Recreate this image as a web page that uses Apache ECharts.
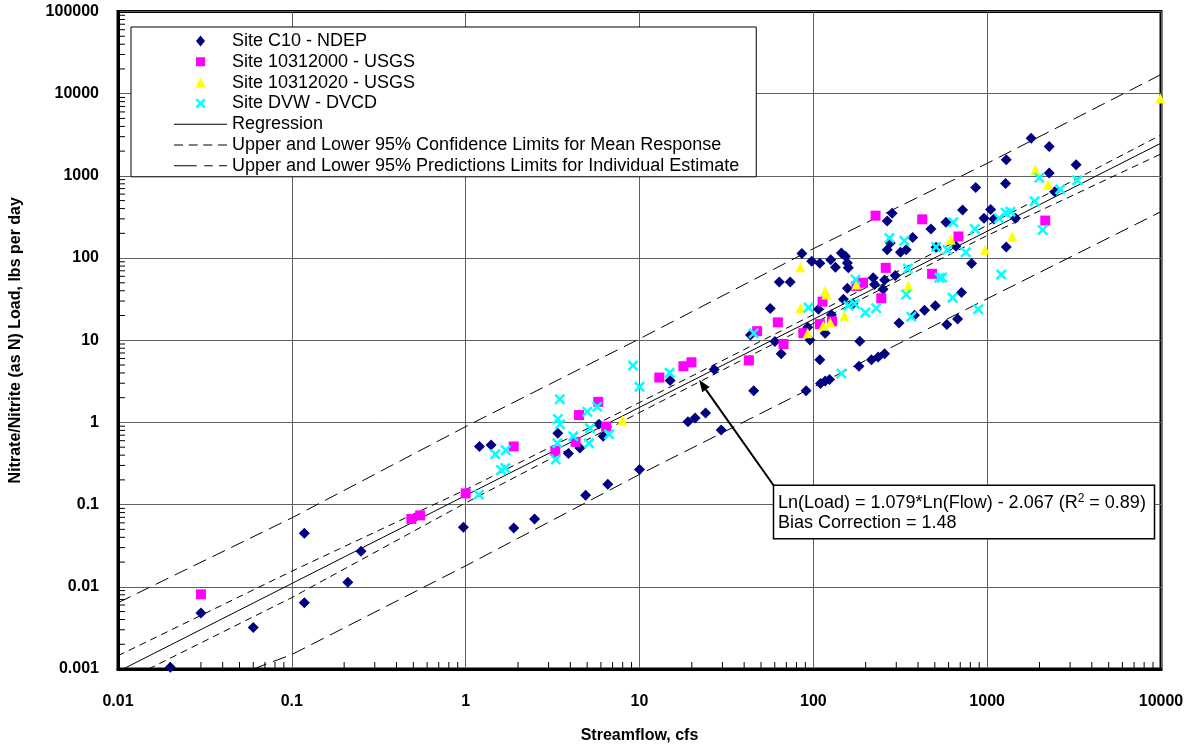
<!DOCTYPE html>
<html>
<head>
<meta charset="utf-8">
<title>Nitrate/Nitrite Load vs Streamflow</title>
<script src="https://cdn.jsdelivr.net/npm/echarts/dist/echarts.min.js"></script>
<style>
    html, body { margin: 0; padding: 0; height: 100%; overflow: hidden; background: #fff; }
    #main { width: 1194px; height: 749px; }
</style>
</head>
<body>
<div id="main"></div>
<script>
// points are [streamflow (cfs), load (lbs per day)]
const siteC10 = [
    [0.02, 0.00105], [0.03, 0.0048], [0.06, 0.0032], [0.118, 0.045], [0.118, 0.0064], [0.21, 0.0114],
    [0.25, 0.027], [0.97, 0.053], [1.2, 0.51], [1.4, 0.53], [1.89, 0.052], [2.49, 0.067], [3.39, 0.74],
    [3.9, 0.42], [4.54, 0.49], [4.9, 0.13], [5.84, 0.95], [6.18, 0.68], [6.57, 0.177], [10, 0.268],
    [15, 3.24], [19, 1.02], [20.9, 1.13], [24, 1.3], [26.9, 4.4], [29.5, 0.81],
    [45.4, 2.43], [43.5, 11.6], [56.5, 24.3], [60.1, 9.64], [65.3, 6.84], [63.7, 51], [73.6, 51],
    [85.9, 114], [90.8, 2.43], [97.9, 91.5], [109, 86.5], [92.9, 14.4], [95.7, 10.1], [109, 5.78],
    [107, 23.9], [110, 2.97], [117, 3.2], [124, 3.32], [117, 12.2], [126, 95.7], [134, 77.4],
    [145, 115], [153, 105], [157, 87.3], [159, 76], [149, 31.5], [157, 42.8], [185, 9.7], [183, 4.82],
    [169, 27.9], [127, 20.4],
    [859, 721], [284, 350], [266, 283], [475, 226], [579, 272], [722, 384], [959, 305], [1047, 391],
    [1094, 299], [373, 178], [277, 152],
    [266, 126], [317, 118], [342, 126], [508, 135], [661, 139], [1288, 136], [813, 85.7], [221, 57.5],
    [257, 54], [296, 61.4], [225, 47.7], [252, 41.6], [712, 38], [503, 26.2], [436, 23.2], [382, 20.2],
    [311, 16.2], [676, 18.1], [586, 15.5], [257, 6.84], [236, 6.24], [216, 5.78],
    [1790, 2860], [2275, 2270], [1288, 1567], [3250, 1364], [2275, 1083], [1276, 805], [2443, 640], [1455, 305]
];
const site10312000 = [
    [0.03, 0.0081], [0.487, 0.067], [0.547, 0.074], [1.0, 0.137], [1.89, 0.51], [3.28, 0.45], [4.29, 0.58],
    [4.49, 1.23], [5.79, 1.78], [6.43, 0.89], [13, 3.52], [17.9, 4.83], [19.9, 5.39],
    [42.6, 5.69], [47.5, 12.9], [62.5, 16.5], [67.4, 9.0], [113, 29.5], [87.7, 12.2], [109, 15.7],
    [128, 17.0], [177, 45.7], [193, 50.1], [246, 32.4], [261, 76], [482, 64.3], [228, 328], [423, 296],
    [684, 183], [2158, 286]
];
const site10312020 = [
    [7.97, 1.06], [84.2, 77.4], [117, 39.8], [119, 36.1], [84.2, 24.5], [92.9, 12.2], [114, 15.0],
    [125, 16.5], [151, 19.9], [177, 47.8], [618, 167], [972, 126], [1393, 183], [352, 45.7],
    [1893, 1188], [2238, 783], [9910, 8710]
];
const siteDVW = [
    [1.19, 0.133], [1.48, 0.41], [1.7, 0.46], [1.6, 0.264], [1.69, 0.279], [3.3, 0.355], [3.37, 0.56],
    [3.39, 1.1], [3.48, 1.91], [3.49, 0.95], [4.16, 0.68], [5.01, 1.35], [5.12, 0.56], [5.19, 0.85],
    [5.71, 1.55], [6.69, 0.72], [9.17, 4.92], [10, 2.72], [14.9, 4.01],
    [45.4, 12.2], [93.8, 25], [145, 3.93], [159, 26.2], [173, 27.9], [175, 55], [199, 21.8],
    [638, 272], [849, 226], [274, 175], [334, 162], [508, 136], [591, 126], [753, 118], [350, 74.5],
    [531, 57.5], [550, 58], [342, 36.1], [230, 24.5], [366, 19.3], [632, 33], [888, 23.9], [1205, 63],
    [1995, 950], [3300, 883], [2630, 687], [1875, 492], [1361, 366], [1276, 356], [1169, 305], [2084, 220]
];

// fitted lines
const regression = [[0.0107, 0.001], [10000, 2500]];
const confUpper = [[0.01, 0.00145], [0.1, 0.0155], [1, 0.152], [10, 1.75], [100, 20.5], [1000, 250], [10000, 3150]];
const confLower = [[0.015, 0.001], [0.1, 0.0074], [1, 0.105], [10, 1.32], [100, 16], [1000, 188], [10000, 1850]];
const predUpper = [[0.01, 0.0064], [0.1, 0.069], [1, 0.89], [10, 10.4], [100, 130], [1000, 1420], [10000, 17100]];
const predLower = [[0.06, 0.001], [0.1, 0.0015], [1, 0.018], [10, 0.233], [100, 2.7], [1000, 32], [10000, 367]];

const xTickLabels = ['0.01', '0.1', '1', '10', '100', '1000', '10000'];
const yTickLabels = ['0.001', '0.01', '0.1', '1', '10', '100', '1000', '10000', '100000'];

const legendNames = [
    'Site C10 - NDEP',
    'Site 10312000 - USGS',
    'Site 10312020 - USGS',
    'Site DVW - DVCD',
    'Regression',
    'Upper and Lower 95% Confidence Limits for Mean Response',
    'Upper and Lower 95% Predictions Limits for Individual Estimate'
];

const eqLine1 = 'Ln(Load) = 1.079*Ln(Flow) - 2.067 (R';
const eqLine1End = ' = 0.89)';
const eqLine2 = 'Bias Correction = 1.48';
const arrowTip = [22, 3.3];
const boxCorner = [59, 0.172];

const FONT = '"Liberation Sans", Arial, sans-serif';
const crossIcon = 'path://M0,1.6L1.6,0L5,3.4L8.4,0L10,1.6L6.6,5L10,8.4L8.4,10L5,6.6L1.6,10L0,8.4L3.4,5Z';

// legend icons drawn in a 53x11 box; the two tiny corner triangles fix the box so nothing is stretched
const box = 'M0,0L0.01,0L0,0.01Z M53,11L52.99,11L53,10.99Z ';
const legendIcons = [
    'path://' + box + 'M26.5,0L31,5.5L26.5,11L22,5.5Z',
    'path://' + box + 'M22,1L31,1L31,10L22,10Z',
    'path://' + box + 'M26.5,0.5L31.5,10.5L21.5,10.5Z',
    'path://' + box + 'M21.5,2.1L23.1,0.5L26.5,3.9L29.9,0.5L31.5,2.1L28.1,5.5L31.5,8.9L29.9,10.5L26.5,7.1L23.1,10.5L21.5,8.9L24.9,5.5Z',
    'path://' + box + 'M0,5L53,5L53,6L0,6Z',
    'path://' + box + 'M0,5L9,5L9,6L0,6Z M14.7,5L23.7,5L23.7,6L14.7,6Z M29.3,5L38.3,5L38.3,6L29.3,6Z M44,5L53,5L53,6L44,6Z',
    'path://' + box + 'M0,5L22.7,5L22.7,6L0,6Z M30.3,5L38.7,5L38.7,6L30.3,6Z M45,5L53,5L53,6L45,6Z'
];

// log minor ticks (2..9 in each decade)
const xMinor = [], yMinor = [];
for (let k = -2; k <= 3; k++) for (let m = 2; m <= 9; m++) xMinor.push([m * Math.pow(10, k), 0.001]);
for (let k = -3; k <= 4; k++) for (let m = 2; m <= 9; m++) yMinor.push([0.01, m * Math.pow(10, k)]);

const chart = echarts.init(document.getElementById('main'));

function scatter(name, data, symbol, size, color) {
    return {
        name, type: 'scatter', data, symbol, symbolSize: size,
        itemStyle: { color, opacity: 1, borderWidth: 0 }, z: 3, silent: true
    };
}
function fitLine(name, data, dash) {
    return {
        name, type: 'line', data, showSymbol: false, symbol: 'none', smooth: false,
        itemStyle: { color: '#000' },
        lineStyle: { color: '#000', width: 1, type: dash }, z: 2, silent: true
    };
}
function minorTicks(name, data, vertical) {
    return {
        name, type: 'custom', data, silent: true, z: 5,
        renderItem: (params, api) => {
            const p = api.coord([api.value(0), api.value(1)]);
            return {
                type: 'line',
                shape: vertical
                    ? { x1: p[0], y1: p[1] - 1, x2: p[0], y2: p[1] - 7 }
                    : { x1: p[0] + 1, y1: p[1], x2: p[0] + 7, y2: p[1] },
                style: { stroke: '#000', lineWidth: 1 }
            };
        }
    };
}

chart.setOption({
    animation: false,
    backgroundColor: '#fff',
    textStyle: { fontFamily: FONT },
    grid: {
        left: 111, right: 33, top: 11.5, bottom: 74.5,
        show: true, borderColor: '#000', borderWidth: 3, backgroundColor: '#fff'
    },
    legend: {
        data: legendNames.map((name, i) => ({ name, icon: legendIcons[i] })),
        orient: 'vertical',
        left: 131, top: 27,
        padding: [5, 17, 2, 43],
        itemWidth: 53, itemHeight: 11, itemGap: 2.8,
        backgroundColor: '#fff',
        borderColor: '#000', borderWidth: 1,
        selectedMode: false,
        itemStyle: { borderWidth: 0 },
        textStyle: { fontFamily: FONT, fontSize: 18, color: '#000' }
    },
    xAxis: {
        type: 'log', logBase: 10, min: 0.01, max: 10000, splitNumber: 10,
        name: 'Streamflow, cfs', nameLocation: 'middle', nameGap: 59,
        nameTextStyle: { fontFamily: FONT, fontSize: 16, fontWeight: 'bold', color: '#000' },
        axisLine: { lineStyle: { color: '#000', width: 3 } },
        axisTick: { show: false },
        axisLabel: {
            margin: 25, fontFamily: FONT, fontSize: 16, fontWeight: 'bold', color: '#000',
            formatter: (v, i) => xTickLabels[i] || ''
        },
        splitLine: { show: true, lineStyle: { color: '#606060', width: 1 } }
    },
    yAxis: {
        type: 'log', logBase: 10, min: 0.001, max: 100000, splitNumber: 10,
        name: 'Nitrate/Nitrite (as N) Load, lbs per day', nameLocation: 'middle', nameGap: 94,
        nameTextStyle: { fontFamily: FONT, fontSize: 16, fontWeight: 'bold', color: '#000' },
        axisLine: { lineStyle: { color: '#000', width: 3 } },
        axisTick: { show: false },
        axisLabel: {
            margin: 19, fontFamily: FONT, fontSize: 16, fontWeight: 'bold', color: '#000',
            formatter: (v, i) => yTickLabels[i] || ''
        },
        splitLine: { show: true, lineStyle: { color: '#606060', width: 1 } }
    },
    series: [
        scatter(legendNames[0], siteC10, 'diamond', 11, '#000080'),
        scatter(legendNames[1], site10312000, 'rect', 10, '#FF00FF'),
        scatter(legendNames[2], site10312020, 'triangle', 10, '#FFFF00'),
        scatter(legendNames[3], siteDVW, crossIcon, 11, '#00FFFF'),
        fitLine(legendNames[4], regression, 'solid'),
        fitLine(legendNames[5], confUpper, [7, 5]),
        fitLine(legendNames[5], confLower, [7, 5]),
        fitLine(legendNames[6], predUpper, [14, 7]),
        fitLine(legendNames[6], predLower, [14, 7]),
        minorTicks('minorX', xMinor, true),
        minorTicks('minorY', yMinor, false)
    ]
});

// regression annotation with arrow
const tip = chart.convertToPixel({ gridIndex: 0 }, arrowTip);
const corner = chart.convertToPixel({ gridIndex: 0 }, boxCorner);
const dx = tip[0] - corner[0], dy = tip[1] - corner[1];
const len = Math.sqrt(dx * dx + dy * dy);
const ux = dx / len, uy = dy / len;
const headLen = 12, headHalf = 4.5;
const bx = tip[0] - ux * headLen, by = tip[1] - uy * headLen;

chart.setOption({
    graphic: [
        {
            type: 'line', z: 100,
            shape: { x1: corner[0], y1: corner[1], x2: bx, y2: by },
            style: { stroke: '#000', lineWidth: 2 }
        },
        {
            type: 'polygon', z: 100,
            shape: { points: [tip, [bx - uy * headHalf, by + ux * headHalf], [bx + uy * headHalf, by - ux * headHalf]] },
            style: { fill: '#000' }
        },
        {
            type: 'rect', z: 100,
            shape: { x: corner[0], y: corner[1], width: 381, height: 53.4 },
            style: { fill: '#fff', stroke: '#000', lineWidth: 1.5 }
        },
        {
            type: 'text', z: 101, x: corner[0] + 4.5, y: corner[1] + 17.5,
            style: {
                text: '{a|' + eqLine1 + '}{s|2}{a|' + eqLine1End + '}',
                verticalAlign: 'middle',
                rich: {
                    a: { fontFamily: FONT, fontSize: 18, fill: '#000', lineHeight: 20 },
                    s: { fontFamily: FONT, fontSize: 12, fill: '#000', lineHeight: 12, verticalAlign: 'top' }
                }
            }
        },
        {
            type: 'text', z: 101, x: corner[0] + 4.5, y: corner[1] + 37.5,
            style: { text: eqLine2, fontFamily: FONT, fontSize: 18, fill: '#000', verticalAlign: 'middle' }
        }
    ]
});
</script>
</body>
</html>
